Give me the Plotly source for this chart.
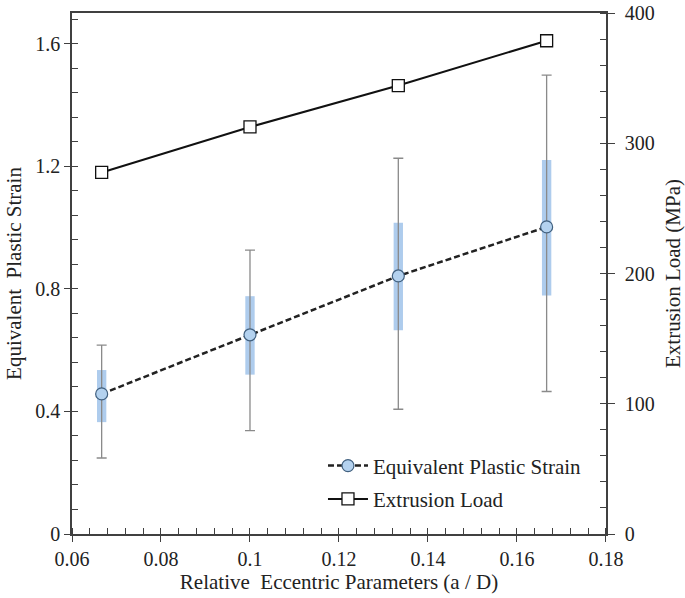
import plotly.graph_objects as go

# ---- data ----
x_vals = [1/15, 0.1, 2/15, 1/6]
strain = [0.457, 0.650, 0.842, 1.002]
strain_max = [0.616, 0.926, 1.226, 1.497]
strain_min = [0.248, 0.337, 0.407, 0.465]
box_top = [0.535, 0.776, 1.016, 1.220]
box_bot = [0.365, 0.520, 0.665, 0.778]
load = [277.6, 312.5, 344.3, 378.7]

x_ticks = [0.06, 0.08, 0.10, 0.12, 0.14, 0.16, 0.18]
x_ticktext = ["0.06", "0.08", "0.1", "0.12", "0.14", "0.16", "0.18"]
y_ticks = [0, 0.4, 0.8, 1.2, 1.6]
y_ticktext = ["0", "0.4", "0.8", "1.2", "1.6"]
y2_ticks = [0, 100, 200, 300, 400]
y2_ticktext = ["0", "100", "200", "300", "400"]

FONT = "Liberation Serif"
AX = "#404040"

fig = go.Figure()

# IQR-like boxes
fig.add_trace(go.Bar(
    x=x_vals, y=[t - b for t, b in zip(box_top, box_bot)], base=box_bot,
    width=0.0021, marker=dict(color="rgba(120,170,225,0.6)", line=dict(width=0)),
    showlegend=False, hoverinfo="skip"))

fig.add_trace(go.Scatter(
    x=x_vals, y=strain, mode="lines+markers", name="Equivalent Plastic Strain",
    legendgroup="a",
    line=dict(color="#222", width=2.5, dash="6px,3px"),
    marker=dict(symbol="circle", size=12, color="#B4D2EF", line=dict(color="#41607F", width=1.2)),
    error_y=dict(type="data", symmetric=False,
                 array=[a - s for a, s in zip(strain_max, strain)],
                 arrayminus=[s - b for s, b in zip(strain, strain_min)],
                 color="#8a8a8a", thickness=1.3, width=5)))

fig.add_trace(go.Scatter(
    x=x_vals, y=load, mode="lines+markers", name="Extrusion Load", yaxis="y2",
    legendgroup="b",
    line=dict(color="#111", width=2),
    marker=dict(symbol="square", size=12, color="white", line=dict(color="#111", width=1.3))))

# dummy traces for crossing (inside) major ticks
fig.add_trace(go.Scatter(x=[], y=[], xaxis="x2", yaxis="y3", showlegend=False, hoverinfo="skip"))
fig.add_trace(go.Scatter(x=[], y=[], xaxis="x2", yaxis="y4", showlegend=False, hoverinfo="skip"))

tickfont = dict(family=FONT, size=20, color="#222")
titlefont = dict(family=FONT, size=21, color="#222")

X_RANGE = [0.06, 0.18001]
Y_RANGE = [0, 1.7]
Y2_RANGE = [0, 400]

fig.update_layout(
    width=685, height=598,
    margin=dict(l=72, r=79, t=13, b=64, autoexpand=False),
    paper_bgcolor="white", plot_bgcolor="white",
    font=dict(family=FONT, color="#222"),
    xaxis=dict(range=X_RANGE, tickmode="array", tickvals=x_ticks, ticktext=x_ticktext,
               ticks="outside", ticklen=6, tickwidth=1.3, tickcolor=AX,
               showline=True, linecolor=AX, linewidth=1.5, mirror=True,
               showgrid=False, zeroline=False, tickfont=tickfont, automargin=False,
               ticklabeloverflow="allow",
               minor=dict(dtick=0.004, ticks="inside", ticklen=6, tickwidth=1.2, tickcolor=AX, showgrid=False),
               title=dict(text="Relative  Eccentric Parameters (a / D)", font=titlefont, standoff=6)),
    yaxis=dict(range=Y_RANGE, tickmode="array", tickvals=y_ticks, ticktext=y_ticktext,
               ticks="outside", ticklen=6, tickwidth=1.3, tickcolor=AX,
               showline=True, linecolor=AX, linewidth=1.5,
               showgrid=False, zeroline=False, tickfont=tickfont, automargin=False,
               ticklabeloverflow="allow",
               minor=dict(dtick=0.08, ticks="inside", ticklen=6, tickwidth=1.2, tickcolor=AX, showgrid=False),
               title=dict(text="Equivalent  Plastic Strain", font=titlefont, standoff=8)),
    yaxis2=dict(range=Y2_RANGE, overlaying="y", side="right", tickmode="array",
                tickvals=y2_ticks, ticktext=y2_ticktext,
                ticks="outside", ticklen=7, tickwidth=1.3, tickcolor=AX,
                showline=True, linecolor=AX, linewidth=1.5,
                showgrid=False, zeroline=False, tickfont=tickfont, automargin=False,
                ticklabeloverflow="allow", ticklabelstandoff=6,
                minor=dict(dtick=20, ticks="inside", ticklen=6, tickwidth=1.2, tickcolor=AX, showgrid=False),
                title=dict(text="Extrusion Load (MPa)", font=titlefont, standoff=16)),
    xaxis2=dict(range=X_RANGE, overlaying="x", tickmode="array", tickvals=x_ticks,
                ticks="inside", ticklen=6, tickwidth=1.3, tickcolor=AX, automargin=False,
                showticklabels=False, showline=False, showgrid=False, zeroline=False),
    yaxis3=dict(range=Y_RANGE, overlaying="y", tickmode="array", tickvals=y_ticks,
                ticks="inside", ticklen=6, tickwidth=1.3, tickcolor=AX, automargin=False,
                showticklabels=False, showline=False, showgrid=False, zeroline=False),
    yaxis4=dict(range=Y2_RANGE, overlaying="y", side="right", tickmode="array", tickvals=y2_ticks,
                ticks="inside", ticklen=6, tickwidth=1.3, tickcolor=AX, automargin=False,
                showticklabels=False, showline=False, showgrid=False, zeroline=False),
    legend=dict(x=0.47, y=0.17, xanchor="left", yanchor="top",
                bgcolor="rgba(0,0,0,0)", font=dict(family=FONT, size=21, color="#222"),
                tracegroupgap=3, itemwidth=40),
    showlegend=True,
)

fig.write_html("out.html", post_script="document.body.style.margin='0';",
               config={"displayModeBar": False})
